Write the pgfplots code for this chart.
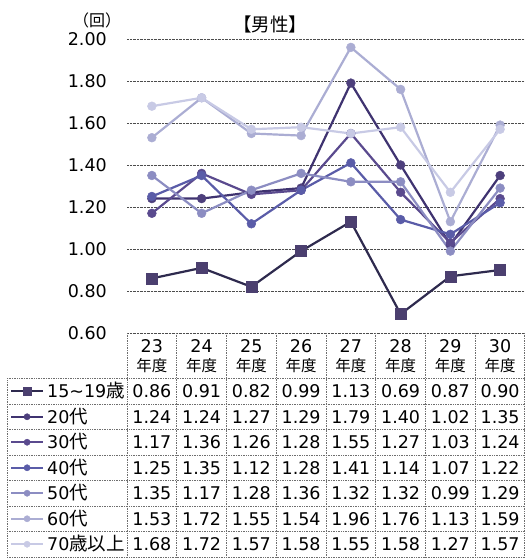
\documentclass[border=0pt]{standalone}
\usepackage{fontspec}
\usepackage{pgfplots}
\usepackage{pgfplotstable}
\pgfplotsset{compat=1.18}
\setmainfont{DejaVu Sans}
\newfontfamily\jp{Noto Sans CJK JP}

\definecolor{l1}{HTML}{2E2A4E}\definecolor{m1}{HTML}{4B3F6F}
\definecolor{l2}{HTML}{3F3370}\definecolor{m2}{HTML}{4D3F7C}
\definecolor{l3}{HTML}{5A4A8E}
\definecolor{l4}{HTML}{5A5CA8}
\definecolor{l5}{HTML}{8C8DC2}
\definecolor{l6}{HTML}{ABADD3}
\definecolor{l7}{HTML}{C8CAE5}
\definecolor{rule}{HTML}{6E6E6E}

\newcommand\tfont{\fontsize{17.5bp}{21bp}\selectfont}

% average visits per year, men, by age group
\pgfplotstableread{
idx yr  s1   s2   s3   s4   s5   s6   s7
0   23  0.86 1.24 1.17 1.25 1.35 1.53 1.68
1   24  0.91 1.24 1.36 1.35 1.17 1.72 1.72
2   25  0.82 1.27 1.26 1.12 1.28 1.55 1.57
3   26  0.99 1.29 1.28 1.28 1.36 1.54 1.58
4   27  1.13 1.79 1.55 1.41 1.32 1.96 1.55
5   28  0.69 1.40 1.27 1.14 1.32 1.76 1.58
6   29  0.87 1.02 1.03 1.07 0.99 1.13 1.27
7   30  0.90 1.35 1.24 1.22 1.29 1.59 1.57
}\data

\begin{document}
\begin{tikzpicture}[x=1bp,y=1bp]
\useasboundingbox (0,0) rectangle (525,559);
\begin{axis}[
  at={(127bp,226bp)}, anchor=south west,
  scale only axis, width=398bp, height=294bp,
  xmin=-0.5, xmax=7.5, ymin=0.6, ymax=2.0,
  xtick=\empty,
  ytick={0.6,0.8,1.0,1.2,1.4,1.6,1.8,2.0},
  ymajorgrids,
  major grid style={densely dotted, black!70, line width=0.8bp},
  axis line style={draw=none},
  major tick length=0pt,
  yticklabel style={/pgf/number format/fixed,
    /pgf/number format/fixed zerofill,
    /pgf/number format/precision=2,
    /pgf/number format/assume math mode=true,
    font=\tfont, inner sep=0pt, xshift=-20bp},
  clip=false,
  legend image code/.code={\draw[mark repeat=2,mark phase=2,#1]
    plot coordinates {(0bp,0bp) (16bp,0bp) (32bp,0bp)};},
  legend image post style={every mark/.append style={scale=0.7}},
  legend cell align=left,
  legend style={at={(axis description cs:-0.294,-0.1548)}, anchor=north west,
    draw=none, fill=none, inner sep=0pt, outer sep=0pt,
    row sep=0pt, column sep=3bp, font=\tfont,
    nodes={inner sep=0pt, text height=19.1bp, text depth=6.4bp}},
  every axis plot/.append style={line width=2.2bp},
]
\addplot[l1, mark=square*, mark size=5.5bp, mark options={solid, fill=m1, draw=m1, line width=0.5bp}]
  table[x=idx, y=s1] {\data};
\addlegendentry{15\textasciitilde19{\jp\fontsize{18.5bp}{21bp}\selectfont 歳}}
\addplot[l2, mark=*, mark size=4.4bp, mark options={solid, fill=m2, draw=m2, line width=0.5bp}]
  table[x=idx, y=s2] {\data};
\addlegendentry{20{\jp\fontsize{18.5bp}{21bp}\selectfont 代}}
\addplot[l3, mark=*, mark size=4.4bp, mark options={solid, fill=l3, draw=l3, line width=0.5bp}]
  table[x=idx, y=s3] {\data};
\addlegendentry{30{\jp\fontsize{18.5bp}{21bp}\selectfont 代}}
\addplot[l4, mark=*, mark size=4.4bp, mark options={solid, fill=l4, draw=l4, line width=0.5bp}]
  table[x=idx, y=s4] {\data};
\addlegendentry{40{\jp\fontsize{18.5bp}{21bp}\selectfont 代}}
\addplot[l5, mark=*, mark size=4.4bp, mark options={solid, fill=l5, draw=l5, line width=0.5bp}]
  table[x=idx, y=s5] {\data};
\addlegendentry{50{\jp\fontsize{18.5bp}{21bp}\selectfont 代}}
\addplot[l6, mark=*, mark size=4.4bp, mark options={solid, fill=l6, draw=l6, line width=0.5bp}]
  table[x=idx, y=s6] {\data};
\addlegendentry{60{\jp\fontsize{18.5bp}{21bp}\selectfont 代}}
\addplot[l7, mark=*, mark size=4.4bp, mark options={solid, fill=l7, draw=l7, line width=0.5bp}]
  table[x=idx, y=s7] {\data};
\addlegendentry{70{\jp\fontsize{18.5bp}{21bp}\selectfont 歳以上}}
\end{axis}

% title and unit
\node at (270,535) {\fontsize{18.5bp}{21bp}\selectfont\jp 【男性】};
\node at (97,539) {\fontsize{16bp}{19bp}\selectfont\jp （回）};

% data table grid
\tikzset{tbl/.style={rule, line width=0.7bp, densely dotted}}
\foreach \j in {0,...,8}
  \draw[tbl] ({127+49.75*\j-(\j==8 ? 0.6 : 0)},226) -- ({127+49.75*\j-(\j==8 ? 0.6 : 0)},2);
\draw[tbl] (7,180.5) -- (7,2);
\draw[tbl] (7,180.5) -- (524.4,180.5);
\foreach \k in {1,...,7}
  \draw[tbl] (7,{180.5-25.5*\k}) -- (524.4,{180.5-25.5*\k});

% header cells
\foreach \yr [count=\k from 0] in {23,...,30} {
  \node at ({127+49.75*(\k+0.5)},212.5) {\tfont\yr};
  \node at ({127+49.75*(\k+0.5)},193.5) {\fontsize{15.5bp}{18bp}\selectfont\jp 年度};
}

% value cells, read from the same table as the plotted lines
\foreach \r in {0,...,7} {
  \foreach \c in {2,...,8} {
    \edef\getcell{\noexpand\pgfplotstablegetelem{\r}{[index]\c}\noexpand\of\noexpand\data}
    \getcell
    \node at ({127+49.75*(\r+0.5)},{180.5-25.5*(\c-2)-12.75}) {\tfont\pgfplotsretval};
  }
}
\end{tikzpicture}
\end{document}
